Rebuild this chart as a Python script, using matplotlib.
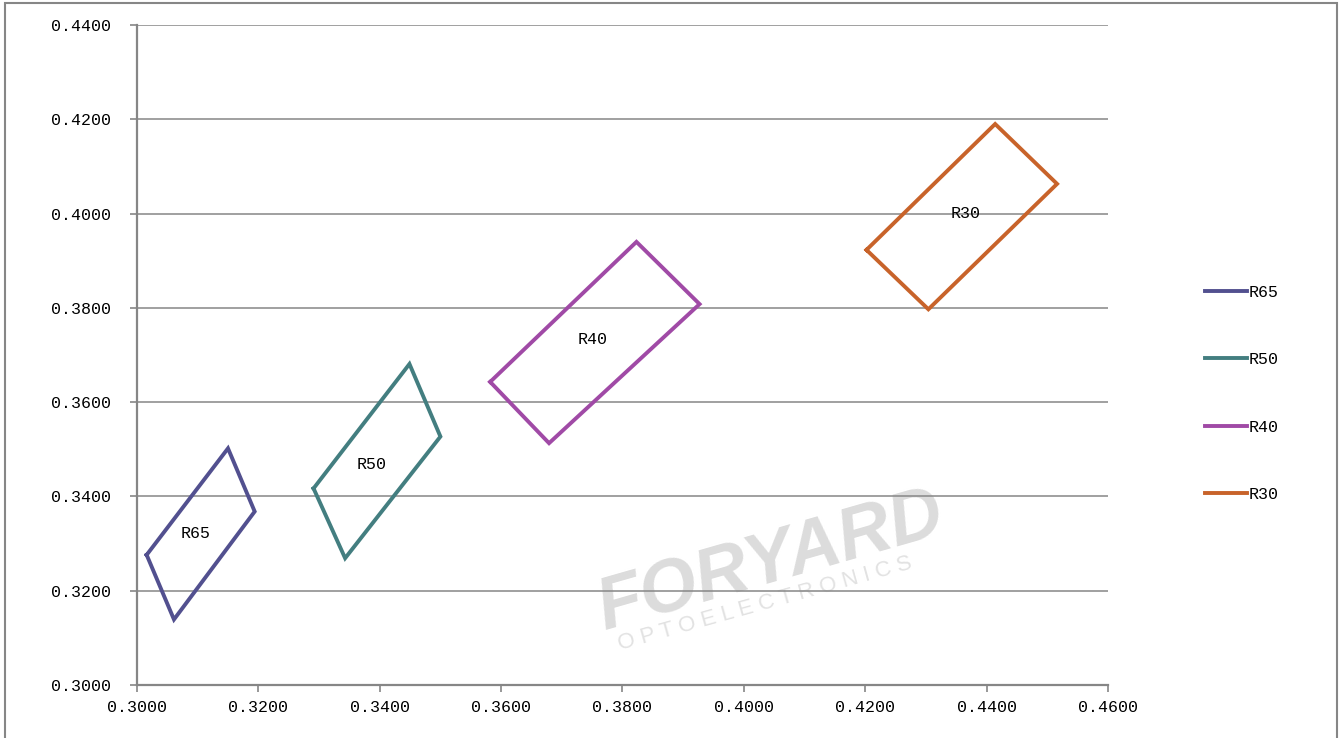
import matplotlib
matplotlib.use("Agg")
import matplotlib.pyplot as plt
from matplotlib.patches import Rectangle
from matplotlib.ticker import FormatStrFormatter

# quadrangle corners (x, y chromaticity), closed loops
names = ["R65", "R50", "R40", "R30"]
colors = ["#52508F", "#437E80", "#A04AA6", "#C8632A"]
xs = [
    [0.3016, 0.3150, 0.3194, 0.3061, 0.3016],
    [0.3291, 0.3449, 0.3500, 0.3343, 0.3291],
    [0.3582, 0.3823, 0.3927, 0.3679, 0.3582],
    [0.4202, 0.4414, 0.4516, 0.4304, 0.4202],
]
ys = [
    [0.3276, 0.3502, 0.3368, 0.3139, 0.3276],
    [0.3417, 0.3681, 0.3527, 0.3269, 0.3417],
    [0.3643, 0.3940, 0.3808, 0.3513, 0.3643],
    [0.3923, 0.4190, 0.4063, 0.3797, 0.3923],
]
label_x = [0.3096, 0.3387, 0.3751, 0.4366]
label_y = [0.3322, 0.3467, 0.3732, 0.4001]

font = "Liberation Mono"
grey = "#868686"

fig = plt.figure(figsize=(13.4, 7.38), dpi=100)
ax = fig.add_axes([0.1022, 0.0718, 0.7247, 0.8943])

for n, c, x, y, lx, ly in zip(names, colors, xs, ys, label_x, label_y):
    ax.plot(x, y, color=c, lw=2.8, label=n, solid_joinstyle="miter", zorder=3)
    ax.text(lx, ly, n, ha="center", va="center", fontsize=12, family=font, zorder=4)

ax.set_xlim(0.30, 0.46)
ax.set_ylim(0.30, 0.44)
ax.set_xticks([0.30 + 0.02 * i for i in range(9)])
ax.set_yticks([0.30 + 0.02 * i for i in range(8)])
ax.xaxis.set_major_formatter(FormatStrFormatter("%.4f"))
ax.yaxis.set_major_formatter(FormatStrFormatter("%.4f"))
for lab in ax.get_xticklabels() + ax.get_yticklabels():
    lab.set_family(font)
    lab.set_fontsize(12)
ax.tick_params(axis="both", direction="out", length=5, color=grey, width=1.2)
ax.tick_params(axis="y", pad=14)
ax.tick_params(axis="x", pad=6)

ax.grid(axis="y", color=grey, lw=1.1)
ax.set_axisbelow(True)
for s in ["top", "right"]:
    ax.spines[s].set_visible(False)
for s in ["left", "bottom"]:
    ax.spines[s].set_color(grey)
    ax.spines[s].set_linewidth(1.6)

# faint watermark
ax.text(0.4045, 0.3262, "FORYARD", rotation=16, ha="center", va="center",
        fontsize=53, fontweight="bold", style="italic", family="Liberation Sans",
        color="#DCDCDC", zorder=0.2)
ax.text(0.4035, 0.3172, "O P T O E L E C T R O N I C S", rotation=15.6,
        ha="center", va="center", fontsize=16, family="Liberation Sans",
        color="#E2E2E2", zorder=0.2)

leg = fig.legend(loc="center left", bbox_to_anchor=(0.888, 0.467), frameon=False,
                 handlelength=2.5, handletextpad=0.15, labelspacing=3.14,
                 prop={"family": font, "size": 12})

fig.patches.append(Rectangle((5 / 1340, -0.05), 1332 / 1340, 1.05 - 3 / 738,
                             transform=fig.transFigure, fill=False,
                             edgecolor=grey, lw=1.5))

fig.savefig("out.png", dpi=100)
